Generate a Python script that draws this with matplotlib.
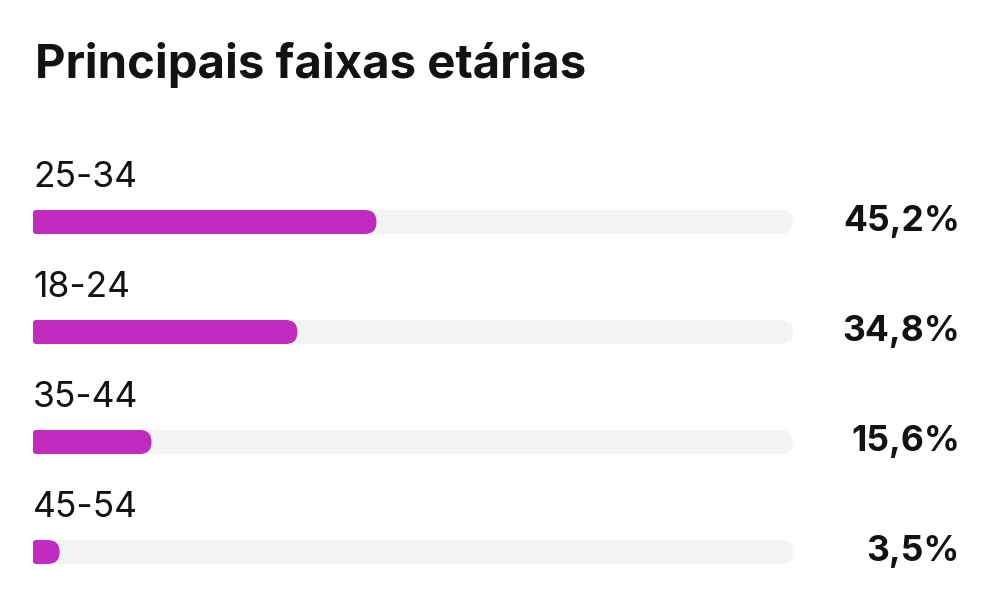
import matplotlib
matplotlib.use("Agg")
import matplotlib.pyplot as plt
from matplotlib.patches import FancyBboxPatch

title = "Principais faixas etárias"
categories = ["25-34", "18-24", "35-44", "45-54"]
values = [45.2, 34.8, 15.6, 3.5]
value_labels = ["45,2%", "34,8%", "15,6%", "3,5%"]

W, H = 989, 591
BAR_COLOR = "#C02ABF"
TRACK_COLOR = "#F3F4F6"
TEXT_COLOR = "#111214"

fig = plt.figure(figsize=(W / 100, H / 100), dpi=100)
fig.patch.set_facecolor("white")

track_left, track_w = 33, 760
ax = fig.add_axes([track_left / W, 0, track_w / W, 1])
px = 100 / track_w  # data units per pixel (equal aspect)
ax.set_xlim(0, 100)
ax.set_ylim(H * px, 0)
ax.axis("off")

bar_h = 24 * px
first_center = 222 * px
row_gap = 110 * px
big_r = bar_h / 2
small_r = 3 * px


def rounded_bar(x0, width, yc, color, z):
    # full pill (right end fully rounded)
    ax.add_patch(FancyBboxPatch((x0, yc - bar_h / 2), width, bar_h,
                                boxstyle=f"round,pad=0,rounding_size={big_r}",
                                fc=color, ec="none", zorder=z))
    # left part with small corner radius
    lw = max(width - big_r, min(width, 2 * small_r))
    ax.add_patch(FancyBboxPatch((x0, yc - bar_h / 2), lw, bar_h,
                                boxstyle=f"round,pad=0,rounding_size={small_r}",
                                fc=color, ec="none", zorder=z))


for i, (cat, v, lab) in enumerate(zip(categories, values, value_labels)):
    yc = first_center + i * row_gap
    rounded_bar(0, 100, yc, TRACK_COLOR, 1)
    rounded_bar(0, v, yc, BAR_COLOR, 2)
    ax.text(0, yc - 35 * px, cat, family=["Inter", "DejaVu Sans"],
            fontsize=25.5, color=TEXT_COLOR, va="baseline", ha="left")
    ax.text(100 + 167 * px, yc + 9 * px, lab, family=["Inter", "DejaVu Sans"],
            fontsize=25.5, fontweight="bold", color=TEXT_COLOR,
            va="baseline", ha="right", clip_on=False)

fig.text(35 / W, 1 - 78 / H, title, family=["Inter", "DejaVu Sans"],
         fontsize=34, fontweight="bold", color=TEXT_COLOR,
         va="baseline", ha="left")

fig.savefig("out.png", dpi=100, facecolor="white")
